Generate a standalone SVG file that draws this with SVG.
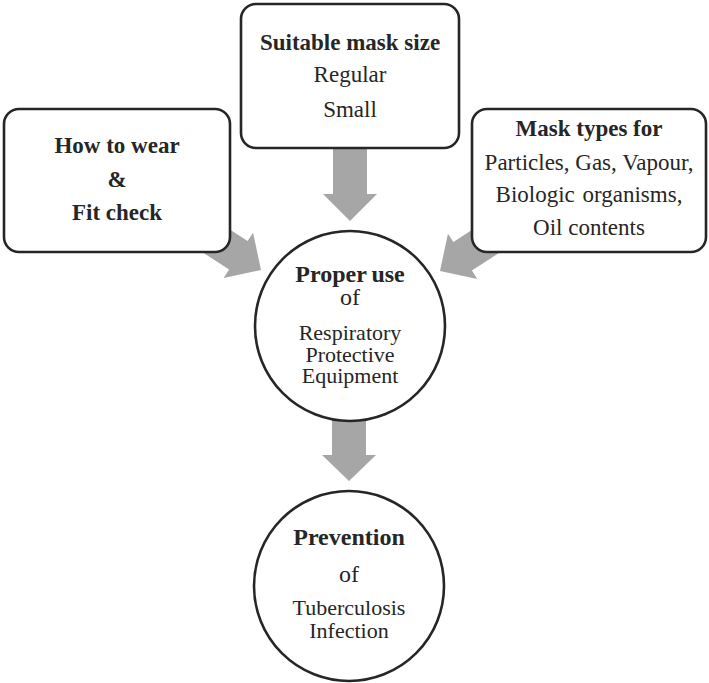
<svg xmlns="http://www.w3.org/2000/svg" xmlns:xlink="http://www.w3.org/1999/xlink" width="709" height="683" viewBox="0 0 709 683">
<style>
.box{fill:#fff;stroke:#262626;stroke-width:2.6}
.arr{fill:#a6a6a6}
text{font-family:"Liberation Serif",serif;fill:#262626;text-anchor:middle;font-size:22px}
.h{font-size:23px}
.c{font-size:24px}
.b{font-weight:bold}
</style>
<defs>
<polygon id="arrow" points="-17,-90 17,-90 17,-27 27,-27 0,0 -27,-27 -17,-27"/>
</defs>
<rect width="709" height="683" fill="#fff"/>
<g id="connectors" class="arr">
<polygon points="333,146 367,146 367,194 377,194 350,221 323,194 333,194"/>
<use xlink:href="#arrow" href="#arrow" transform="translate(261,270) rotate(-57)"/>
<use xlink:href="#arrow" href="#arrow" transform="translate(440,271) rotate(57)"/>
<polygon points="332,418 366,418 366,455 376,455 349,481 322,455 332,455"/>
</g>
<g id="node-size">
<rect class="box" x="241" y="4" width="218" height="144" rx="15"/>
<text class="h b" x="350" y="50">Suitable mask size</text>
<text class="h" x="350" y="82">Regular</text>
<text class="h" x="350" y="117">Small</text>
</g>
<g id="node-wear">
<rect class="box" x="4" y="109" width="226" height="143" rx="15"/>
<text class="h b" x="117" y="153">How to wear</text>
<text class="h b" x="117" y="187">&amp;</text>
<text class="h b" x="117" y="220">Fit check</text>
</g>
<g id="node-types">
<rect class="box" x="472" y="109" width="234" height="143" rx="15"/>
<text class="h b" x="589" y="136">Mask types for</text>
<text class="h" x="589" y="170">Particles, Gas, Vapour,</text>
<text class="h" x="589" y="202" word-spacing="2">Biologic organisms,</text>
<text class="h" x="589" y="235">Oil contents</text>
</g>
<g id="node-proper">
<circle class="box" cx="350" cy="326" r="95"/>
<text class="c b" x="350" y="282" word-spacing="-1">Proper use</text>
<text class="c" x="350" y="305">of</text>
<text x="350" y="340">Respiratory</text>
<text x="350" y="362">Protective</text>
<text x="350" y="383">Equipment</text>
</g>
<g id="node-prevention">
<circle class="box" cx="349" cy="586" r="95"/>
<text class="c b" x="349" y="545">Prevention</text>
<text class="c" x="349" y="582">of</text>
<text x="349" y="615">Tuberculosis</text>
<text x="349" y="638">Infection</text>
</g>
</svg>
